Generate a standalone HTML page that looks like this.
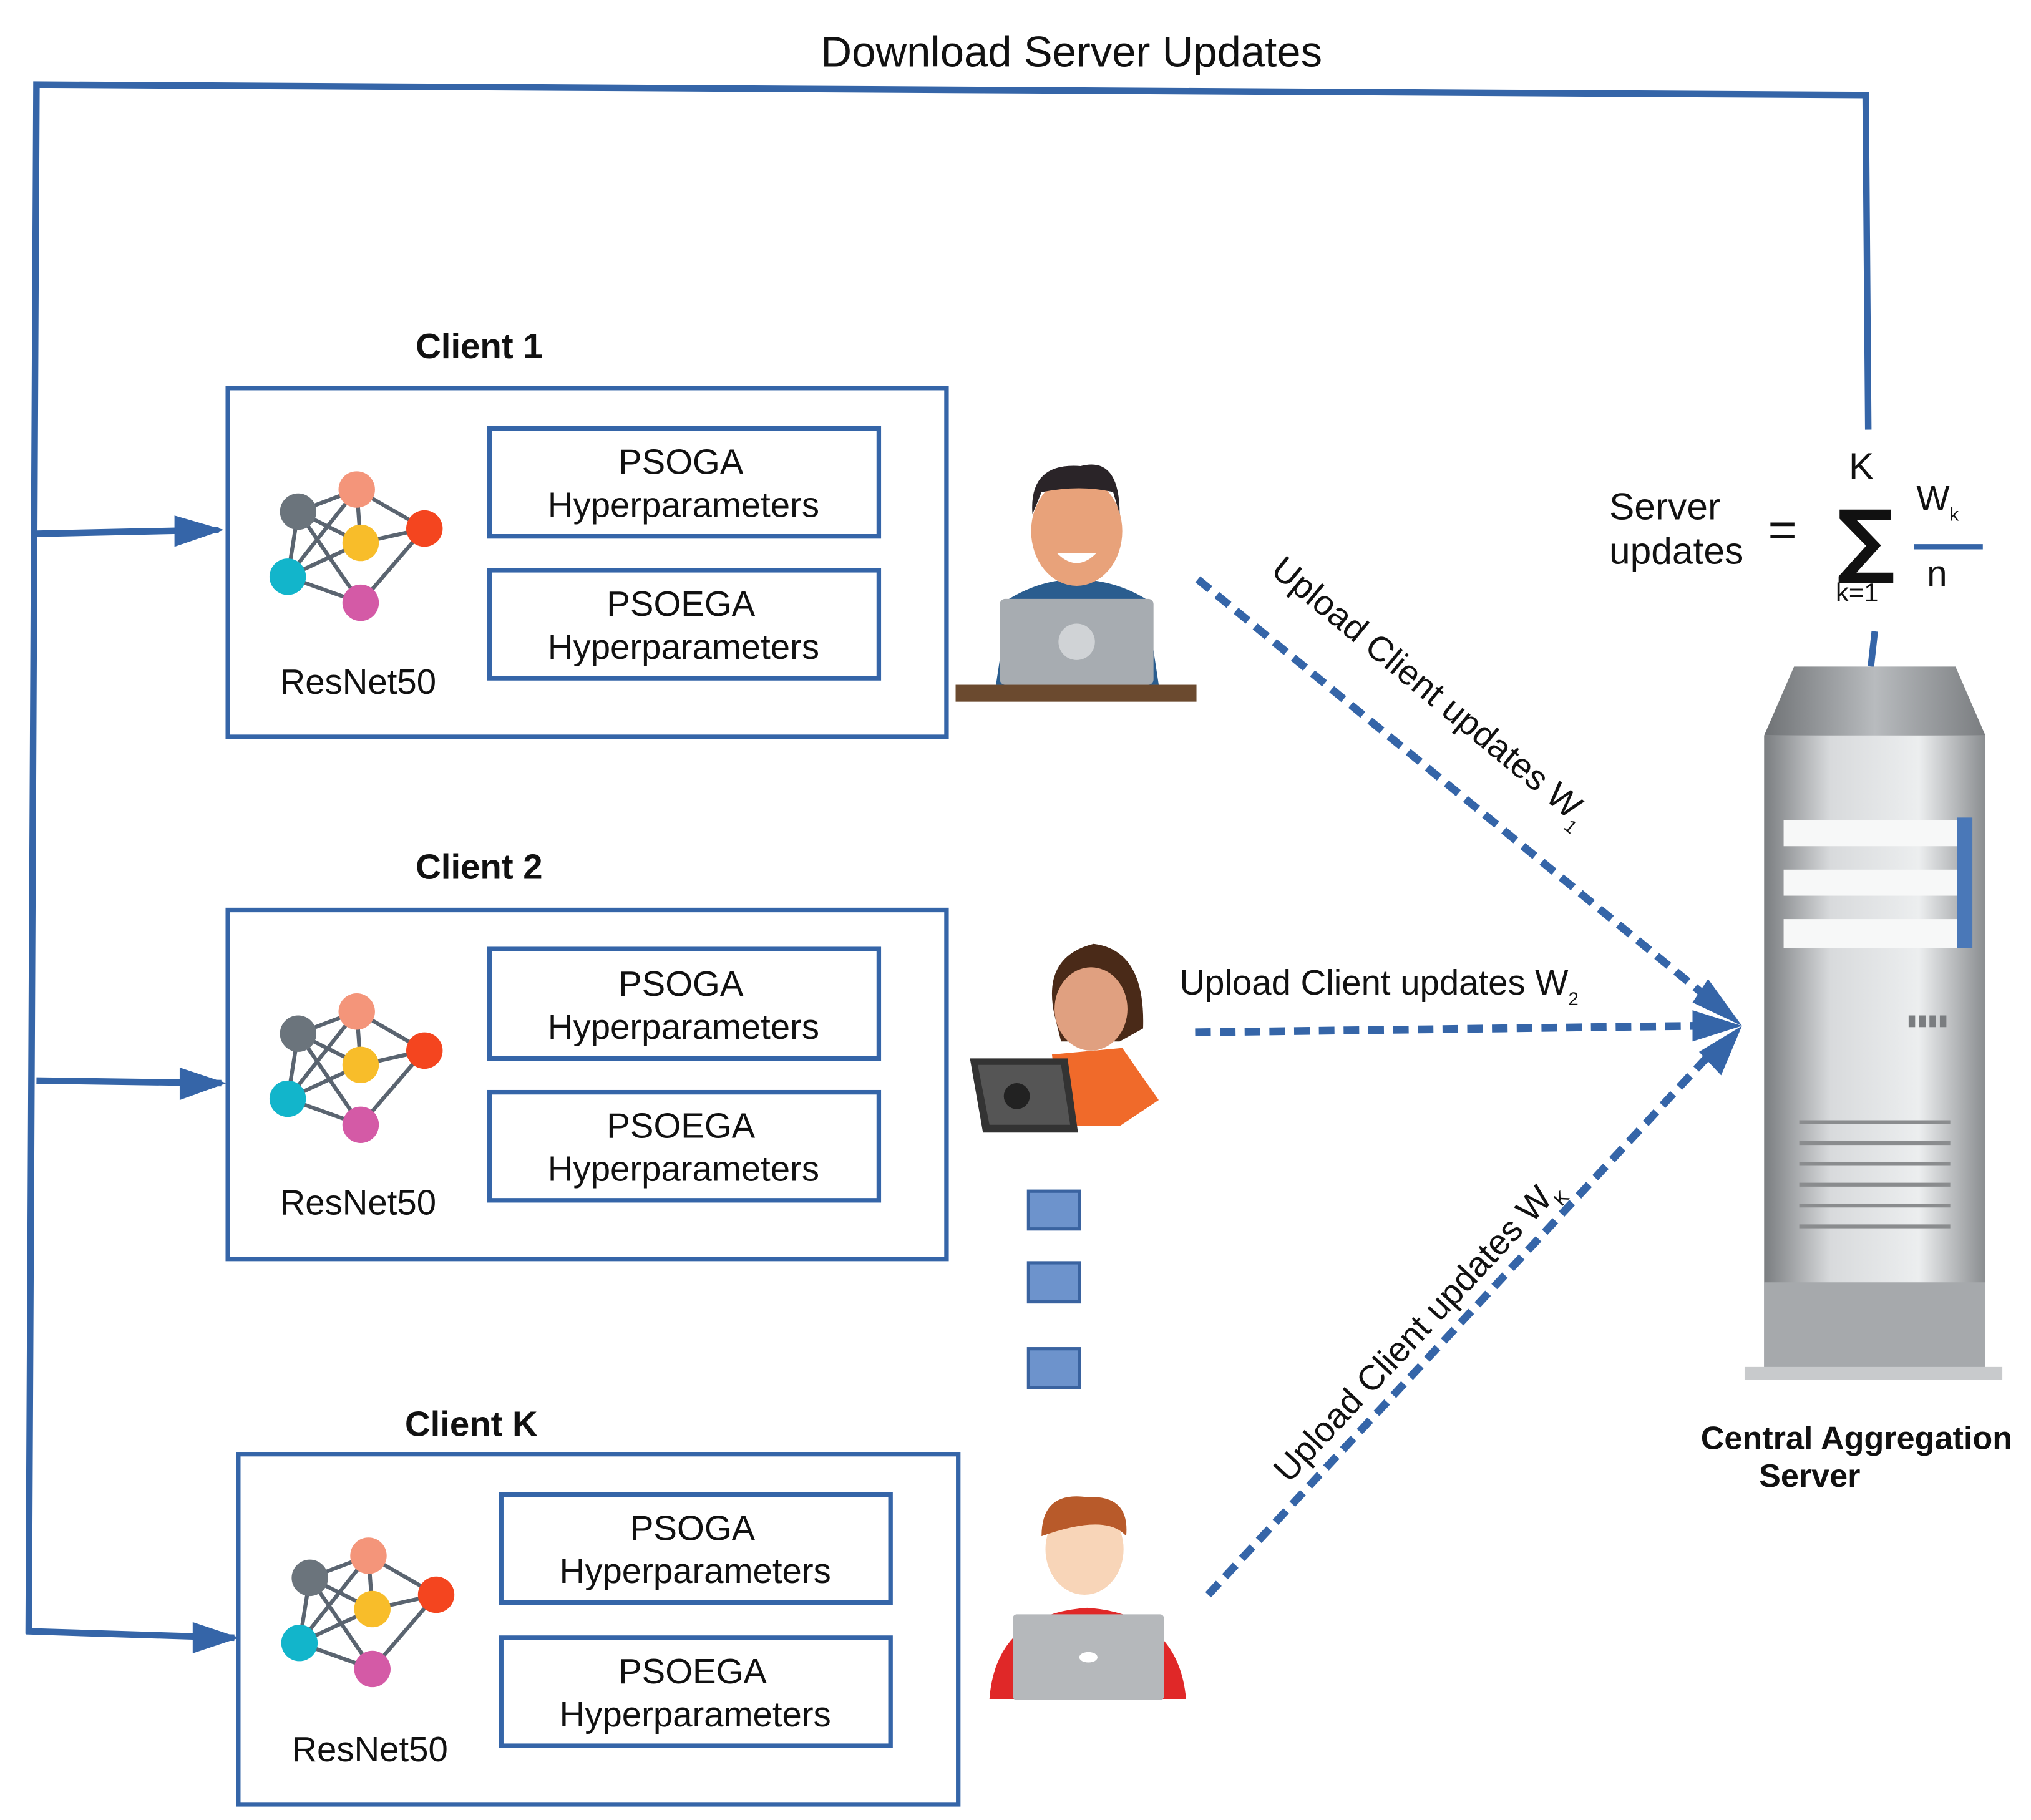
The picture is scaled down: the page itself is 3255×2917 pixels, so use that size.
<!DOCTYPE html>
<html><head><meta charset="utf-8"><style>
html,body{margin:0;padding:0;background:#fff;}
svg{display:block;}
text{font-family:"Liberation Sans",Arial,sans-serif;fill:#111;}
</style></head><body>
<svg width="3255" height="2917" viewBox="0 0 1560 1398" xmlns="http://www.w3.org/2000/svg">
<defs>
<marker id="ah" markerWidth="10" markerHeight="10" refX="8" refY="5" orient="auto" markerUnits="userSpaceOnUse">
<path d="M0,0 L10,5 L0,10 z" fill="#3565a8"/></marker>
<g id="net">
<g stroke="#5a6470" stroke-width="3">
<line x1="0" y1="0" x2="45" y2="-17"/><line x1="0" y1="0" x2="48" y2="24"/><line x1="0" y1="0" x2="48" y2="70"/>
<line x1="45" y1="-17" x2="48" y2="24"/><line x1="45" y1="-17" x2="-8" y2="50"/><line x1="45" y1="-17" x2="97" y2="13"/>
<line x1="48" y1="24" x2="97" y2="13"/><line x1="48" y1="24" x2="-8" y2="50"/><line x1="97" y1="13" x2="48" y2="70"/>
<line x1="-8" y1="50" x2="48" y2="70"/><line x1="0" y1="0" x2="-8" y2="50"/>
</g>
<circle cx="0" cy="0" r="14" fill="#6b747c"/><circle cx="45" cy="-17" r="14" fill="#f4957a"/>
<circle cx="48" cy="24" r="14" fill="#f8bd2a"/><circle cx="97" cy="13" r="14" fill="#f4451f"/>
<circle cx="-8" cy="50" r="14" fill="#12b5cb"/><circle cx="48" cy="70" r="14" fill="#d45aa6"/>
</g>
<linearGradient id="sg" x1="0" x2="1"><stop offset="0" stop-color="#7a7d80"/><stop offset="0.3" stop-color="#d8dadc"/><stop offset="0.7" stop-color="#eceeef"/><stop offset="1" stop-color="#8a8d90"/></linearGradient>
<linearGradient id="tg" x1="0" x2="1"><stop offset="0" stop-color="#6f7275"/><stop offset="0.5" stop-color="#b8bbbe"/><stop offset="1" stop-color="#7a7d80"/></linearGradient>
</defs>

<text x="823" y="51" font-size="33" text-anchor="middle">Download Server Updates</text>
<g stroke="#3565a8" stroke-width="5" fill="none">
<polyline points="1435,330 1433,73 28,65 22,1255"/>
<line x1="28" y1="410" x2="168" y2="407"/>
<line x1="28" y1="830" x2="170" y2="832"/>
<line x1="20" y1="1253" x2="180" y2="1258"/>
<line x1="1440" y1="485" x2="1437" y2="512"/>
</g>
<g fill="#3565a8">
<path d="M134,396 L172,407 L134,420 z"/><path d="M138,820 L174,832 L138,845 z"/><path d="M148,1246 L184,1258 L148,1270 z"/>
</g>

<g fill="none" stroke="#3565a8" stroke-width="3.5">
<rect x="175" y="298" width="552" height="268"/>
<rect x="376" y="329" width="299" height="83"/><rect x="376" y="438" width="299" height="83"/>
<rect x="175" y="699" width="552" height="268"/>
<rect x="376" y="729" width="299" height="84"/><rect x="376" y="839" width="299" height="83"/>
<rect x="183" y="1117" width="553" height="269"/>
<rect x="385" y="1148" width="299" height="83"/><rect x="385" y="1258" width="299" height="83"/>
</g>
<g font-size="27" text-anchor="middle" font-weight="bold">
<text x="368" y="275">Client 1</text><text x="368" y="675">Client 2</text><text x="362" y="1103">Client K</text>
</g>
<g font-size="27" text-anchor="middle">
<text x="523" y="364">PSOGA</text><text x="525" y="397">Hyperparameters</text>
<text x="523" y="473">PSOEGA</text><text x="525" y="506">Hyperparameters</text>
<text x="523" y="765">PSOGA</text><text x="525" y="798">Hyperparameters</text>
<text x="523" y="874">PSOEGA</text><text x="525" y="907">Hyperparameters</text>
<text x="532" y="1183">PSOGA</text><text x="534" y="1216">Hyperparameters</text>
<text x="532" y="1293">PSOEGA</text><text x="534" y="1326">Hyperparameters</text>
<text x="275" y="533">ResNet50</text><text x="275" y="933">ResNet50</text><text x="284" y="1353">ResNet50</text>
</g>
<use href="#net" x="229" y="393"/><use href="#net" x="229" y="794"/><use href="#net" x="238" y="1212"/>

<!-- person 1 -->
<rect x="734" y="526" width="185" height="13" fill="#6b4a2f"/>
<path d="M775,460 Q800,445 826,445 Q855,445 880,460 L890,526 L765,526 z" fill="#2a5d8f"/>
<ellipse cx="827" cy="408" rx="35" ry="42" fill="#e8a27a"/>
<path d="M793,395 Q790,355 830,358 Q860,350 860,395 L855,378 Q830,372 800,378 z" fill="#2a2428"/>
<path d="M812,425 Q827,440 842,425 z" fill="#fff"/>
<rect x="768" y="460" width="118" height="66" rx="4" fill="#a7acb1"/>
<circle cx="827" cy="493" r="14" fill="#d0d3d6"/>
<!-- person 2 -->
<path d="M810,780 Q800,735 840,725 Q880,730 878,790 L860,800 L815,800 z" fill="#4a2a18"/>
<ellipse cx="838" cy="775" rx="28" ry="32" fill="#e0a080"/>
<path d="M808,810 L862,805 L890,845 L860,865 L815,865 z" fill="#f06a2a"/>
<path d="M745,813 L820,813 L828,870 L755,870 z" fill="#333" />
<path d="M751,818 L815,818 L822,864 L760,864 z" fill="#555"/>
<circle cx="781" cy="842" r="10" fill="#222"/>
<!-- person K -->
<path d="M760,1305 Q765,1240 835,1235 Q905,1240 911,1305 z" fill="#e02828"/>
<ellipse cx="833" cy="1190" rx="30" ry="35" fill="#f8d5b8"/>
<path d="M800,1180 Q800,1145 835,1150 Q868,1148 865,1180 Q850,1162 800,1180 z" fill="#b85a2a"/>
<rect x="778" y="1240" width="116" height="66" rx="3" fill="#b5b8bb"/>
<ellipse cx="836" cy="1273" rx="7" ry="4" fill="#fff"/>

<!-- dots -->
<g fill="#6d93cc" stroke="#3a63a0" stroke-width="2.5">
<rect x="790" y="915" width="39" height="29"/><rect x="790" y="970" width="39" height="30"/><rect x="790" y="1036" width="39" height="30"/>
</g>

<!-- dashed arrows -->
<g stroke="#3565a8" stroke-width="6" stroke-dasharray="12,7" fill="none">
<line x1="920" y1="445" x2="1310" y2="765"/>
<line x1="918" y1="793" x2="1305" y2="788"/>
<line x1="928" y1="1225" x2="1315" y2="808"/>
</g>
<path d="M1300,770 L1338,788 L1312,752 z" fill="#3565a8"/>
<path d="M1300,776 L1338,788 L1300,800 z" fill="#3565a8"/>
<path d="M1305,808 L1338,788 L1322,826 z" fill="#3565a8"/>
<text transform="translate(975,440) rotate(39.5)" font-size="27">Upload Client updates W<tspan font-size="14" dy="8">1</tspan></text>
<text x="906" y="764" font-size="27">Upload Client updates W<tspan font-size="14" dy="8">2</tspan></text>
<text transform="translate(990,1140) rotate(-47)" font-size="27">Upload Client updates W<tspan font-size="14" dy="8">K</tspan></text>

<!-- server -->
<path d="M1378,512 L1502,512 L1525,565 L1355,565 z" fill="url(#tg)"/>
<rect x="1355" y="565" width="170" height="490" fill="url(#sg)"/>
<rect x="1370" y="630" width="135" height="20" fill="#f7f8f8"/>
<rect x="1370" y="668" width="135" height="20" fill="#f7f8f8"/>
<rect x="1370" y="706" width="135" height="22" fill="#f7f8f8"/>
<rect x="1503" y="628" width="12" height="100" fill="#4a78b8"/>
<g stroke="#8a8c8e" stroke-width="3"><line x1="1382" y1="862" x2="1498" y2="862"/><line x1="1382" y1="878" x2="1498" y2="878"/><line x1="1382" y1="894" x2="1498" y2="894"/><line x1="1382" y1="910" x2="1498" y2="910"/><line x1="1382" y1="926" x2="1498" y2="926"/><line x1="1382" y1="942" x2="1498" y2="942"/></g>
<rect x="1355" y="985" width="170" height="70" fill="#a6a9ac"/>
<rect x="1340" y="1050" width="198" height="10" fill="#c8cacc"/>
<g fill="#7a7d80"><rect x="1466" y="780" width="5" height="9"/><rect x="1474" y="780" width="5" height="9"/><rect x="1482" y="780" width="5" height="9"/><rect x="1490" y="780" width="5" height="9"/></g>
<text x="1426" y="1113" font-size="25" font-weight="bold" text-anchor="middle">Central  Aggregation</text>
<text x="1390" y="1142" font-size="25" font-weight="bold" text-anchor="middle">Server</text>

<!-- formula -->
<text x="1236" y="399" font-size="29">Server</text>
<text x="1236" y="433" font-size="29">updates</text>
<text x="1358" y="420" font-size="38">=</text>
<text x="1420" y="368" font-size="29">K</text>
<text x="1411" y="436" font-size="62" font-weight="bold" style="font-family:'DejaVu Sans',sans-serif">∑</text>
<text x="1410" y="462" font-size="20">k=1</text>
<text x="1472" y="392" font-size="27">W<tspan font-size="14" dy="8">k</tspan></text>
<line x1="1470" y1="420" x2="1523" y2="420" stroke="#3565a8" stroke-width="4"/>
<text x="1480" y="450" font-size="28">n</text>
</svg>
</body></html>
